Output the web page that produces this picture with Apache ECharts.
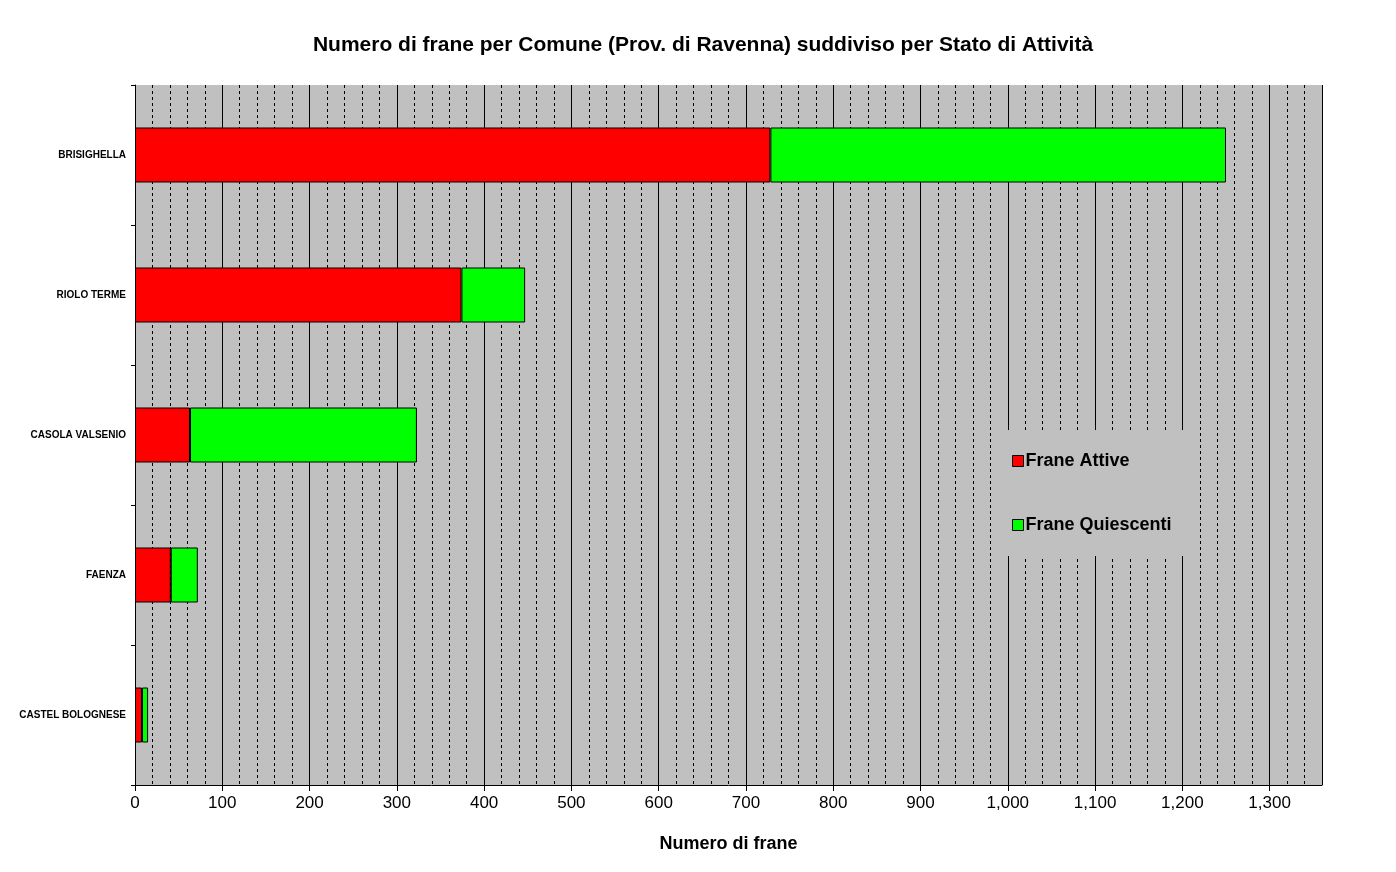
<!DOCTYPE html>
<html>
<head>
<meta charset="utf-8">
<script src="https://cdn.jsdelivr.net/npm/echarts@6/dist/echarts.min.js"></script>
<style>html,body{margin:0;padding:0;background:#fff}#chart{width:1396px;height:872px}</style>
</head>
<body>
<div id="chart"></div>
<script>
// comuni dall'alto verso il basso
const comuni = ["BRISIGHELLA", "RIOLO TERME", "CASOLA VALSENIO", "FAENZA", "CASTEL BOLOGNESE"];
const franeAttive = [728, 374, 63, 41, 8];
const franeQuiescenti = [522, 73, 260, 31, 7];

const chart = echarts.init(document.getElementById("chart"));
chart.setOption({
    animation: false,
    textStyle: { fontFamily: "Liberation Sans, Arial, sans-serif" },
    title: {
        text: "Numero di frane per Comune (Prov. di Ravenna) suddiviso per Stato di Attività",
        left: 698, top: 30, textAlign: "center",
        textStyle: { fontSize: 21, fontWeight: "bold", color: "#000" }
    },
    legend: {
        orient: "vertical",
        left: 992, top: 430,
        width: 205,
        padding: [22, 20, 22, 20],
        itemGap: 46,
        itemWidth: 11, itemHeight: 11,
        backgroundColor: "#c0c0c0",
        icon: "rect",
        itemStyle: { borderColor: "#000", borderWidth: 1 },
        textStyle: { fontSize: 18, fontWeight: "bold", color: "#000", padding: [0, 0, 0, -3] },
        data: ["Frane Attive", "Frane Quiescenti"]
    },
    grid: { left: 135, right: 74, top: 85, bottom: 87, show: true, backgroundColor: "#c0c0c0", borderWidth: 0 },
    xAxis: {
        type: "value", min: 0, max: 1360, interval: 100,
        name: "Numero di frane", nameLocation: "middle", nameGap: 50,
        nameTextStyle: { fontSize: 18, fontWeight: "bold", color: "#000" },
        axisLine: { show: true, lineStyle: { color: "#000" } },
        axisTick: { show: true, length: 6, lineStyle: { color: "#000" } },
        axisLabel: { fontSize: 17, color: "#000", margin: 10, showMaxLabel: false },
        splitLine: { show: true, lineStyle: { color: "#000", width: 1 } },
        minorTick: { show: false, splitNumber: 5 },
        minorSplitLine: { show: true, lineStyle: { color: "#000", type: [3, 3], width: 1 } }
    },
    yAxis: {
        type: "category", inverse: true, data: comuni,
        axisLine: { show: true, lineStyle: { color: "#000" } },
        axisTick: { show: true, length: 4, lineStyle: { color: "#000" } },
        axisLabel: { fontSize: 10, fontWeight: "bold", color: "#000", margin: 9 },
        splitLine: { show: false }
    },
    series: [
        {
            name: "Frane Attive", type: "bar", stack: "tot", barWidth: 55,
            itemStyle: { color: "#ff0000", borderColor: "#000", borderWidth: 1 },
            data: franeAttive
        },
        {
            name: "Frane Quiescenti", type: "bar", stack: "tot", barWidth: 55,
            itemStyle: { color: "#00ff00", borderColor: "#000", borderWidth: 1 },
            data: franeQuiescenti
        }
    ]
});
</script>
</body>
</html>
